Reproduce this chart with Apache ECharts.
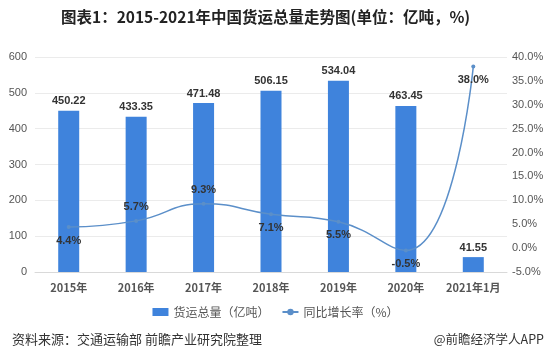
<!DOCTYPE html>
<html><head><meta charset="utf-8">
<script src="https://cdn.jsdelivr.net/npm/echarts@6/dist/echarts.min.js"></script>
<style>html,body{margin:0;padding:0;background:#fff;}#c{width:551px;height:359px;}</style>
</head><body><div id="c"></div>
<script>
const categories = ['2015年','2016年','2017年','2018年','2019年','2020年','2021年1月'];
const freightVolume = [450.22, 433.35, 471.48, 506.15, 534.04, 463.45, 41.55];
const growthRate = [4.4, 5.7, 9.3, 7.1, 5.5, -0.5, 38.0];
const rateLabelPos = ['bottom','top','top','bottom','bottom','bottom','bottom'];

const chart = echarts.init(document.getElementById('c'));
const font = '"Noto Sans CJK SC", sans-serif';
chart.setOption({
  backgroundColor: '#fff',
  animation: false,
  title: [{
    text: '图表1：2015-2021年中国货运总量走势图(单位：亿吨，%)',
    left: 56, top: 4,
    textStyle: {fontSize: 15.5, fontWeight: 'bold', color: '#222', fontFamily: font}
  },{
    text: '资料来源：交通运输部 前瞻产业研究院整理',
    left: 7, top: 328,
    textStyle: {fontSize: 13, fontWeight: 'normal', color: '#333', fontFamily: font}
  },{
    text: '@前瞻经济学人APP',
    right: 2, top: 328,
    textStyle: {fontSize: 12.5, fontWeight: 'normal', color: '#333', fontFamily: font}
  }],
  legend: {
    bottom: 36, left: 'center', itemGap: 12,
    itemWidth: 16, itemHeight: 8,
    textStyle: {fontSize: 12, color: '#555', fontFamily: font},
    data: [{name: '货运总量（亿吨）', icon: 'rect'}, {name: '同比增长率（%）'}]
  },
  grid: {left: 35, right: 44, top: 57, bottom: 87},
  xAxis: {
    type: 'category', data: categories,
    axisLine: {lineStyle: {color: '#d9d9d9'}},
    axisTick: {show: false},
    axisLabel: {interval: 0, color: '#555', fontSize: 11, fontWeight: 'bold', margin: 10, fontFamily: font}
  },
  yAxis: [{
    type: 'value', min: 0, max: 600, interval: 100,
    axisLine: {show: false}, axisTick: {show: false},
    axisLabel: {color: '#555', fontSize: 11, margin: 8},
    splitLine: {lineStyle: {color: '#ebebeb'}}
  },{
    type: 'value', min: -5, max: 40, interval: 5,
    axisLine: {show: false}, axisTick: {show: false},
    axisLabel: {color: '#555', fontSize: 11, margin: 5, formatter: v => v.toFixed(1) + '%'},
    splitLine: {show: false}
  }],
  series: [{
    name: '货运总量（亿吨）', type: 'bar', data: freightVolume,
    barWidth: 21,
    itemStyle: {color: '#3f83dc'},
    label: {show: true, position: 'top', color: '#333', fontSize: 11, fontWeight: 'bold', distance: 4}
  },{
    name: '同比增长率（%）', type: 'line', yAxisIndex: 1, smooth: true,
    data: growthRate.map((v, i) => ({value: v, label: {position: rateLabelPos[i]}})),
    symbol: 'circle', symbolSize: 4,
    lineStyle: {color: '#5b8fc9', width: 1.5},
    itemStyle: {color: '#5b8fc9'},
    label: {show: true, color: '#333', fontSize: 11, fontWeight: 'bold', distance: 6,
      formatter: p => p.value.toFixed(1) + '%'}
  }]
});
</script></body></html>
